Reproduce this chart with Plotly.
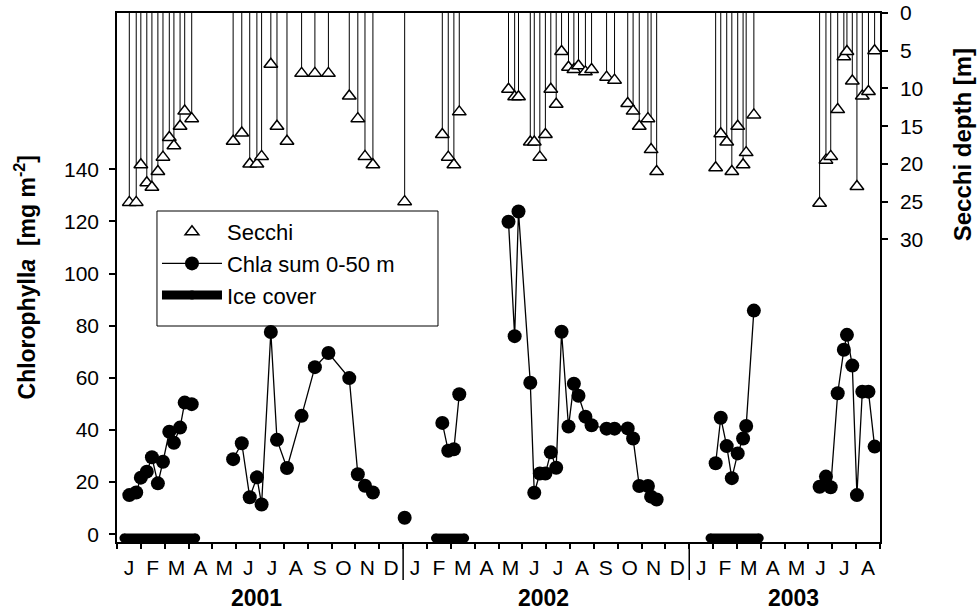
import calendar
import plotly.graph_objects as go

# ---------------- data ----------------
sample_dates = [
    "2001-01-17", "2001-01-26", "2001-02-01", "2001-02-08", "2001-02-14", "2001-02-21",
    "2001-02-27", "2001-03-07", "2001-03-13", "2001-03-21", "2001-03-27", "2001-04-05",
    "2001-05-28", "2001-06-08", "2001-06-18", "2001-06-27", "2001-07-03", "2001-07-15",
    "2001-07-23", "2001-08-05", "2001-08-24", "2001-09-10", "2001-09-27", "2001-10-24",
    "2001-11-04", "2001-11-13", "2001-11-23",
    "2002-01-03",
    "2002-02-19", "2002-02-26", "2002-03-05", "2002-03-12",
    "2002-05-14", "2002-05-22", "2002-05-27", "2002-06-11", "2002-06-16", "2002-06-23",
    "2002-06-30", "2002-07-07", "2002-07-14", "2002-07-21", "2002-07-30", "2002-08-06",
    "2002-08-12", "2002-08-21", "2002-08-29", "2002-09-17", "2002-09-27", "2002-10-14",
    "2002-10-21", "2002-10-29", "2002-11-09", "2002-11-13", "2002-11-20",
    "2003-02-04", "2003-02-10", "2003-02-17", "2003-02-23", "2003-03-02", "2003-03-09",
    "2003-03-13", "2003-03-23",
    "2003-06-15", "2003-06-23", "2003-06-29", "2003-07-08", "2003-07-16", "2003-07-20",
    "2003-07-27", "2003-08-02", "2003-08-09", "2003-08-17", "2003-08-25",
]

chla_sum = [
    15.0, 16.0, 21.7, 24.0, 29.5, 19.5, 27.8, 39.3, 35.1, 40.9, 50.5, 49.9,
    28.8, 34.9, 14.2, 21.8, 11.4, 77.6, 36.2, 25.4, 45.4, 64.1, 69.5, 59.9, 23.0, 18.6, 16.0,
    6.3,
    42.7, 32.0, 32.6, 53.7,
    119.9, 76.0, 123.8, 58.1, 15.9, 23.3, 23.3, 31.4, 25.5, 77.7, 41.3, 57.7, 53.1, 45.1,
    41.8, 40.5, 40.5, 40.6, 36.7, 18.5, 18.5, 14.4, 13.3,
    27.2, 44.7, 33.8, 21.5, 31.0, 36.7, 41.5, 85.8,
    18.2, 22.1, 18.0, 54.1, 70.8, 76.5, 64.7, 15.0, 54.7, 54.7, 33.6,
]

secchi_depth = [
    25.1, 25.1, 20.1, 22.5, 23.1, 21.0, 19.1, 16.5, 17.6, 15.0, 13.0, 14.0,
    17.0, 15.9, 20.0, 20.0, 19.0, 6.8, 15.0, 17.0, 8.0, 8.0, 8.0, 11.0, 14.0, 19.0, 20.1,
    25.0,
    16.1, 19.1, 20.1, 13.1,
    10.1, 11.1, 11.1, 17.1, 17.1, 19.1, 16.1, 10.1, 12.1, 5.1, 7.2, 7.5, 7.0, 7.8,
    7.5, 8.5, 8.9, 12.0, 13.0, 15.0, 14.0, 18.1, 21.0,
    20.5, 16.0, 17.1, 21.0, 15.0, 20.1, 18.5, 13.5,
    25.2, 19.5, 19.0, 12.8, 5.8, 5.1, 9.0, 23.0, 11.0, 10.4, 5.0,
]

ice_start = ["2001-01-10", "2002-02-11", "2003-01-28"]
ice_end = ["2001-04-10", "2002-03-19", "2003-03-30"]

month_letters = ["J", "F", "M", "A", "M", "J", "J", "A", "S", "O", "N", "D"] * 2 + \
                ["J", "F", "M", "A", "M", "J", "J", "A"]
year_labels = ["2001", "2002", "2003"]
year_label_pos = [5.87, 17.87, 28.36]   # in months since Jan 2001
year_breaks = [12, 24]

chl_ticks = [0, 20, 40, 60, 80, 100, 120, 140]
secchi_ticks = [0, 5, 10, 15, 20, 25, 30]

BASE_YEAR = 2001
N_MONTHS = 32
ICE_LEVEL = -1.5
FONT = "Liberation Sans, Arial, sans-serif"


def to_month(d):
    y, m, dd = (int(v) for v in d.split("-"))
    return (y - BASE_YEAR) * 12 + (m - 1) + (dd - 1) / calendar.monthrange(y, m)[1]


t = [to_month(d) for d in sample_dates]

# chlorophyll line: break where sampling gap exceeds ~5 weeks
cx, cy = [], []
for i, (tx, v) in enumerate(zip(t, chla_sum)):
    if i > 0 and tx - t[i - 1] > 1.2:
        cx.append(None)
        cy.append(None)
    cx.append(tx)
    cy.append(v)

# secchi stems from surface
sx, sy = [], []
for tx, d in zip(t, secchi_depth):
    sx += [tx, tx, None]
    sy += [0, d, None]

# ice cover bars
ix, iy = [], []
for s, e in zip(ice_start, ice_end):
    ix += [to_month(s), to_month(e), None]
    iy += [ICE_LEVEL, ICE_LEVEL, None]

fig = go.Figure()
fig.add_trace(go.Scatter(x=sx, y=sy, mode="lines", yaxis="y2", showlegend=False,
                         line=dict(color="black", width=1), hoverinfo="skip"))
fig.add_trace(go.Scatter(x=t, y=secchi_depth, mode="markers", yaxis="y2", name="Secchi",
                         marker=dict(symbol="triangle-up", size=12, color="white",
                                     line=dict(color="black", width=1.5))))
fig.add_trace(go.Scatter(x=cx, y=cy, mode="lines+markers", name="Chl<i>a</i> sum 0-50 m",
                         line=dict(color="black", width=1.3),
                         marker=dict(symbol="circle", size=14, color="black")))
fig.add_trace(go.Scatter(x=ix, y=iy, mode="lines+markers", name="Ice cover",
                         line=dict(color="black", width=9),
                         marker=dict(symbol="circle", size=9, color="black")))

for xb in year_breaks:
    fig.add_shape(type="line", xref="x", yref="paper", x0=xb, x1=xb, y0=0, y1=-0.072,
                  line=dict(color="black", width=1.5))

# legend frame
fig.add_shape(type="rect", xref="paper", yref="paper", x0=0.0524, x1=0.4207,
              y0=0.4083, y1=0.6257, line=dict(color="black", width=1),
              fillcolor="white", layer="below")

annotations = []
for lab, xp in zip(year_labels, year_label_pos):
    annotations.append(dict(x=xp, y=-0.106, xref="x", yref="paper", text=f"<b>{lab}</b>",
                            showarrow=False, xanchor="center", yanchor="middle",
                            font=dict(size=23, family=FONT, color="black")))
annotations.append(dict(x=-0.1206, y=0.5, xref="paper", yref="paper", textangle=-90,
                        text="<b>Chlorophyll<i>a</i>  [mg m<sup>-2</sup>]</b>",
                        showarrow=False, xanchor="center", yanchor="middle",
                        font=dict(size=23, family=FONT, color="black")))
annotations.append(dict(x=1.1075, y=0.75, xref="paper", yref="paper", textangle=-90,
                        text="<b>Secchi depth [m]</b>",
                        showarrow=False, xanchor="center", yanchor="middle",
                        font=dict(size=24, family=FONT, color="black")))

fig.update_layout(
    template="none",
    width=979, height=616,
    margin=dict(l=117, r=99, t=13, b=74, autoexpand=False),
    paper_bgcolor="white", plot_bgcolor="white",
    font=dict(family=FONT, size=21, color="black"),
    annotations=annotations,
    legend=dict(x=0.0524, y=0.6257, xanchor="left", yanchor="top",
                bgcolor="rgba(0,0,0,0)", borderwidth=0,
                font=dict(size=22, family=FONT), itemwidth=60, tracegroupgap=0),
    xaxis=dict(range=[0, N_MONTHS], showgrid=False, zeroline=False, automargin=False,
               showline=True, linecolor="black", linewidth=1.5, mirror=True,
               tickmode="array", tickvals=[i + 0.5 for i in range(N_MONTHS)],
               ticktext=month_letters, ticks="", ticklabelstandoff=6,
               minor=dict(tickmode="linear", tick0=0, dtick=1, ticks="outside",
                          ticklen=5, tickwidth=1.5, tickcolor="black", showgrid=False)),
    yaxis=dict(range=[-3, 200], showgrid=False, zeroline=False, automargin=False,
               showline=True, linecolor="black", linewidth=1.5,
               tickmode="array", tickvals=chl_ticks, ticks="outside", ticklen=6,
               tickwidth=1.5, tickcolor="black", ticklabelstandoff=6),
    yaxis2=dict(range=[70.1, 0], overlaying="y", side="right", showgrid=False,
                zeroline=False, showline=True, linecolor="black", linewidth=1.5,
                automargin=False, ticklabeloverflow="allow",
                tickmode="array", tickvals=secchi_ticks, ticks="outside", ticklen=6,
                tickwidth=1.5, tickcolor="black", ticklabelstandoff=8),
)

fig.write_html("out.html", config={"displayModeBar": False},
               post_script="document.body.style.margin='0px';")
